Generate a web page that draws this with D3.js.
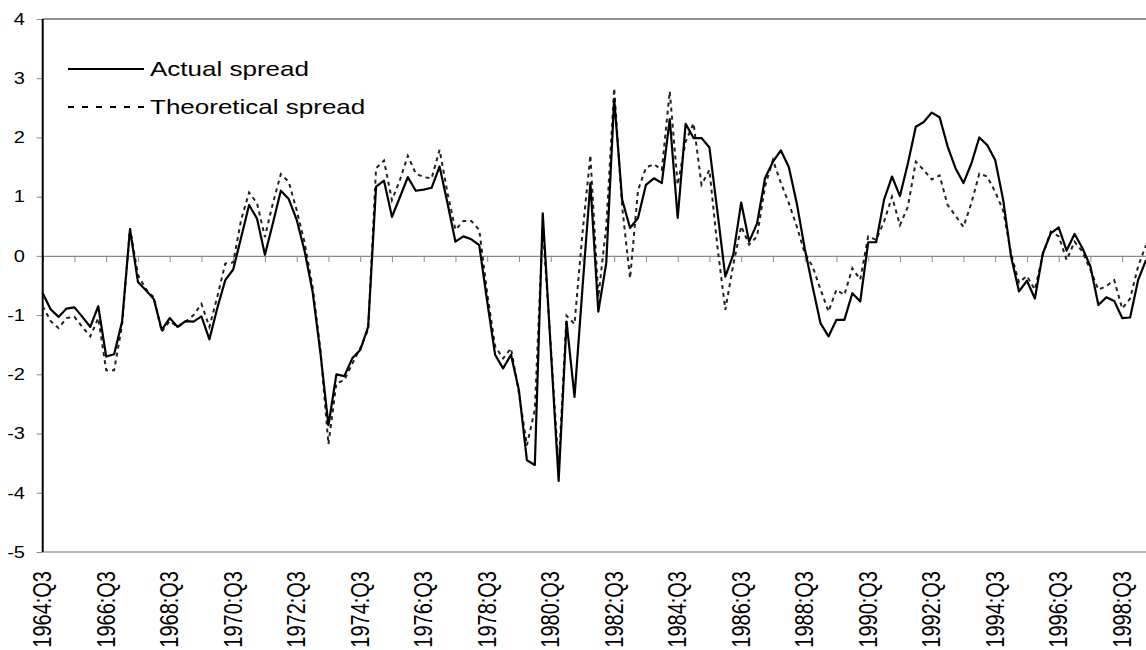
<!DOCTYPE html>
<html>
<head>
<meta charset="utf-8">
<script src="https://cdn.jsdelivr.net/npm/d3@7"></script>
<style>
  html, body { margin: 0; padding: 0; background: #fff; }
  svg { display: block; }
  text { font-family: "Liberation Sans", Arial, sans-serif; fill: #000; }
</style>
</head>
<body>
<svg id="chart" width="1146" height="650"></svg>
<script>
// Quarterly spreads, 1964:Q3 – 1999:Q2
const startYear = 1964;
const startQuarter = 3;

const actualSpread = [
  -0.63, -0.90, -1.03, -0.89, -0.87, -1.03, -1.20, -0.85, -1.70, -1.66,
  -1.11,  0.45, -0.44, -0.58, -0.73, -1.25, -1.05, -1.20, -1.10, -1.11,
  -1.02, -1.41, -0.88, -0.41, -0.23,  0.31,  0.86,  0.63,  0.02,  0.55,
   1.10,  0.96,  0.61,  0.08, -0.60, -1.65, -2.86, -2.00, -2.03, -1.73,
  -1.59, -1.20,  1.17,  1.27,  0.66,  0.99,  1.33,  1.10,  1.12,  1.15,
   1.51,  0.89,  0.24,  0.33,  0.28,  0.18, -0.77, -1.67, -1.90, -1.67,
  -2.27, -3.45, -3.53,  0.72, -1.55, -3.80, -1.11, -2.38, -0.55,  1.23,
  -0.94, -0.12,  2.65,  0.95,  0.47,  0.64,  1.20,  1.31,  1.23,  2.31,
   0.64,  2.23,  1.99,  1.99,  1.83,  0.75, -0.35,  0.02,  0.90,  0.24,
   0.55,  1.31,  1.59,  1.78,  1.50,  0.89,  0.13, -0.52, -1.14, -1.36,
  -1.08, -1.08, -0.63, -0.77,  0.23,  0.23,  0.95,  1.34,  1.01,  1.56,
   2.18,  2.26,  2.42,  2.34,  1.85,  1.48,  1.23,  1.56,  2.00,  1.87,
   1.62,  0.95, -0.01, -0.60, -0.42, -0.72,  0.04,  0.38,  0.48,  0.09,
   0.37,  0.13, -0.18, -0.83, -0.70, -0.76, -1.05, -1.04, -0.41, -0.07
];

const theoreticalSpread = [
  -0.85, -1.10, -1.22, -1.05, -1.03, -1.20, -1.36, -1.05, -1.93, -1.93,
  -1.17,  0.47, -0.32, -0.56, -0.70, -1.28, -1.10, -1.20, -1.11, -1.00,
  -0.81, -1.20, -0.69, -0.13, -0.11,  0.61,  1.07,  0.89,  0.32,  0.89,
   1.38,  1.25,  0.77,  0.22, -0.52, -1.60, -3.18, -2.15, -2.10, -1.82,
  -1.56, -1.25,  1.48,  1.61,  0.94,  1.28,  1.69,  1.39,  1.33,  1.31,
   1.79,  1.06,  0.44,  0.59,  0.59,  0.44, -0.63, -1.53, -1.73, -1.56,
  -2.32, -3.20, -2.60,  0.50, -1.50, -3.60, -1.01, -1.15,  0.38,  1.70,
  -0.70,  0.50,  2.83,  0.83, -0.38,  1.11,  1.49,  1.55,  1.45,  2.78,
   1.20,  1.93,  2.24,  1.20,  1.45,  0.16, -0.91, -0.15,  0.50,  0.19,
   0.33,  1.17,  1.62,  1.23,  0.89,  0.50,  0.05, -0.18, -0.57, -0.94,
  -0.57, -0.66, -0.21, -0.40,  0.33,  0.27,  0.58,  1.00,  0.52,  0.83,
   1.59,  1.45,  1.29,  1.36,  0.86,  0.68,  0.49,  0.89,  1.39,  1.34,
   1.08,  0.77,  0.04, -0.45, -0.34, -0.57,  0.02,  0.41,  0.33, -0.07,
   0.24,  0.07, -0.24, -0.57, -0.51, -0.41, -0.89, -0.72, -0.18,  0.18
];

const tickLabels = [
  "1964:Q3", "1966:Q3", "1968:Q3", "1970:Q3", "1972:Q3", "1974:Q3",
  "1976:Q3", "1978:Q3", "1980:Q3", "1982:Q3", "1984:Q3", "1986:Q3",
  "1988:Q3", "1990:Q3", "1992:Q3", "1994:Q3", "1996:Q3", "1998:Q3"
];
const yTicks = [-5, -4, -3, -2, -1, 0, 1, 2, 3, 4];
const seriesNames = ["Actual spread", "Theoretical spread"];

// Category names for every quarter
const quarters = actualSpread.map((_, i) => {
  const q = startQuarter - 1 + i;
  return (startYear + Math.floor(q / 4)) + ":Q" + (q % 4 + 1);
});

const svg = d3.select("#chart");
const plotLeft = 42.7, plotRight = 1146, plotTop = 19, plotBottom = 552;
// The whole figure is a little wider than tall in its lettering
const textStretch = 1.25;

const x = d3.scalePoint().domain(quarters).range([plotLeft, plotRight]);
const y = d3.scaleLinear().domain([-5, 4]).range([plotBottom, plotTop]);

// Frame lines: top border and floor of the plot
svg.append("line")
  .attr("x1", plotLeft).attr("x2", plotRight).attr("y1", y(4)).attr("y2", y(4))
  .attr("stroke", "#222").attr("stroke-width", 1.2);
svg.append("line")
  .attr("x1", plotLeft).attr("x2", plotRight).attr("y1", y(-5)).attr("y2", y(-5))
  .attr("stroke", "#777").attr("stroke-width", 1.2);

// Category axis sitting on the zero line, yearly ticks, labels below the plot
const tickQuarters = quarters.filter((_, i) => i % 4 === 0);
const xAxis = d3.axisBottom(x).tickValues(tickQuarters).tickSize(6).tickFormat("");
const gx = svg.append("g").attr("transform", `translate(0,${y(0)})`).call(xAxis);
gx.select(".domain").attr("stroke", "#888").attr("stroke-width", 1.2);
gx.selectAll(".tick line").attr("stroke", "#888").attr("stroke-width", 1);

svg.append("g").selectAll("text")
  .data(tickLabels)
  .join("text")
  .attr("transform", d => `translate(${x(d)},${plotBottom + 19}) scale(${textStretch},1) rotate(-90)`)
  .attr("text-anchor", "end")
  .attr("dy", "0.35em")
  .attr("font-size", 20)
  .text(d => d);

// Value axis: ticks from d3, labels set beside them
const yAxis = d3.axisLeft(y).tickValues(yTicks).tickSize(6).tickFormat("");
const gy = svg.append("g").attr("transform", `translate(${plotLeft},0)`).call(yAxis);
gy.select(".domain").remove();
gy.selectAll(".tick line").attr("stroke", "#888");

svg.append("g").selectAll("text")
  .data(yTicks)
  .join("text")
  .attr("transform", d => `translate(25,${y(d)}) scale(${textStretch},1)`)
  .attr("text-anchor", "end")
  .attr("dy", "0.36em")
  .attr("font-size", 16)
  .text(d => String(d));

svg.append("line")
  .attr("x1", plotLeft).attr("x2", plotLeft).attr("y1", plotTop).attr("y2", plotBottom)
  .attr("stroke", "#000").attr("stroke-width", 2);

// Series lines
const line = d3.line().x((d, i) => x(quarters[i])).y(d => y(d));

svg.append("path")
  .datum(theoreticalSpread)
  .attr("fill", "none")
  .attr("stroke", "#222")
  .attr("stroke-width", 2)
  .attr("stroke-dasharray", "4,4")
  .attr("d", line);

svg.append("path")
  .datum(actualSpread)
  .attr("fill", "none")
  .attr("stroke", "#000")
  .attr("stroke-width", 2.2)
  .attr("stroke-linejoin", "round")
  .attr("d", line);

// Legend
const legend = svg.append("g");
const legendRows = [
  { name: seriesNames[0], y: 69, dash: null },
  { name: seriesNames[1], y: 107, dash: "6,8" }
];
legendRows.forEach(r => {
  legend.append("line")
    .attr("x1", 68).attr("x2", 144).attr("y1", r.y).attr("y2", r.y)
    .attr("stroke", "#000").attr("stroke-width", 2)
    .attr("stroke-dasharray", r.dash);
  legend.append("text")
    .attr("transform", `translate(150,${r.y}) scale(1.3,1)`)
    .attr("dy", "0.36em")
    .attr("font-size", 20)
    .text(r.name);
});
</script>
</body>
</html>
